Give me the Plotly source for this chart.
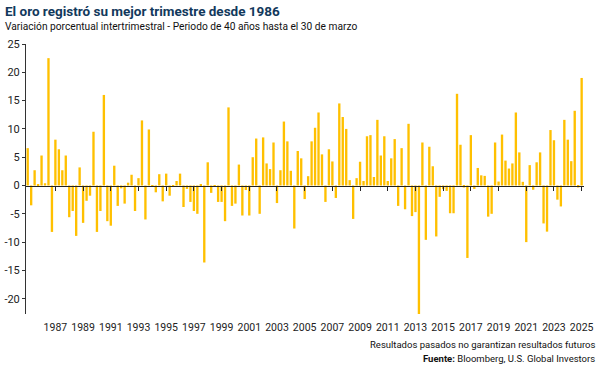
import plotly.graph_objects as go

# ---------------- data ----------------
title_text = "El oro registró su mejor trimestre desde 1986"
subtitle_text = "Variación porcentual intertrimestral - Periodo de 40 años hasta el 30 de marzo"
footnote_text = "Resultados pasados no garantizan resultados futuros"
source_label = "Fuente:"
source_text = "Bloomberg, U.S. Global Investors"

first_quarter_year = 1985  # first bar = Q1 1985, last bar = Q1 2025

qoq_change = [
    6.6, -3.5, 2.7, 0.1, 5.3, 0.4, 22.5, -8.2,          # 1985-1986
    8.1, 6.4, 2.7, 5.3, -5.6, -4.5, -8.9, 3.2,          # 1987-1988
    -6.6, -2.7, -1.8, 9.5, -8.2, -4.5, 16.0, -6.3,      # 1989-1990
    -7.1, 3.5, -3.6, -0.5, -3.2, 0.5, 1.9, -4.5,        # 1991-1992
    1.3, 11.5, -6.0, 9.9, -0.1, -1.2, 2.0, -2.8,        # 1993-1994
    2.1, -1.8, -0.2, 0.8, 2.1, -3.8, -0.6, -2.9,        # 1995-1996
    -4.5, -5.0, 0.2, -13.6, 4.1, -1.3, -0.2, -2.9,      # 1997-1998
    -2.9, -6.3, 13.8, -3.6, -3.2, 3.7, -5.3, -0.8,      # 1999-2000
    -5.3, 5.0, 8.3, -5.0, 8.5, 3.9, 2.9, 7.6,           # 2001-2002
    -3.1, 2.7, 11.3, 7.8, 2.6, -7.6, 6.1, 4.8,          # 2003-2004
    -2.4, 1.65, 7.8, 10.2, 12.9, 5.5, -2.9, 6.4,        # 2005-2006
    4.25, -2.2, 14.5, 12.1, 10.0, 0.95, -5.9, 1.3,      # 2007-2008
    4.2, 0.8, 8.7, 8.9, 1.5, 11.6, 5.3, 8.7,            # 2009-2010
    0.8, 4.8, 8.2, -3.6, 6.6, -4.2, 10.9, -5.4,         # 2011-2012
    -4.7, -22.8, 7.6, -9.6, 6.85, 3.4, -9.0, -2.0,      # 2013-2014
    -0.65, -0.95, -4.9, -4.9, 16.2, 7.2, -0.35, -12.8,  # 2015-2016
    8.9, -0.6, 3.1, 1.8, 1.7, -5.5, -5.0, 7.6,          # 2017-2018
    0.7, 9.0, 4.4, 3.0, 3.9, 12.9, 5.85, 0.65,          # 2019-2020
    -10.0, 3.6, -0.75, 4.1, 5.85, -6.7, -8.15, 9.8,     # 2021-2022
    8.0, -2.5, -3.7, 11.6, 8.1, 4.3, 13.2, -0.35,       # 2023-2024
    19.0,                                               # 2025 Q1
]

x_tick_years = list(range(1987, 2026, 2))
y_tick_values = list(range(-20, 26, 5))
y_tick_labels = [str(v) for v in y_tick_values]

# ---------------- style ----------------
FONT = "Roboto, Lato, sans-serif"
GOLD = "#FFC000"
NAVY = "#12395c"
X_RANGE = [1984.877, 2025.17]
Y_RANGE = [-22.7, 25.0]
zero_pos = (0 - Y_RANGE[0]) / (Y_RANGE[1] - Y_RANGE[0])

x_vals = [first_quarter_year + i / 4 for i in range(len(qoq_change))]

fig = go.Figure()
fig.add_trace(go.Bar(
    x=x_vals, y=qoq_change, width=0.17,
    marker=dict(color=GOLD, line=dict(width=0)),
    hovertemplate="%{y:.1f}%<extra></extra>",
))
# helper trace so the zero-line axis (x2) is rendered
fig.add_trace(go.Scatter(x=[None], y=[None], xaxis="x2", yaxis="y",
                         showlegend=False, hoverinfo="skip"))

fig.update_layout(
    width=600, height=365,
    margin=dict(l=26, r=16, t=44, b=51, autoexpand=False),
    paper_bgcolor="white", plot_bgcolor="white",
    showlegend=False,
    font=dict(family=FONT, size=11, color="#222222"),
    xaxis=dict(
        range=X_RANGE, tickvals=x_tick_years,
        ticktext=[str(y) for y in x_tick_years],
        tickangle=0, automargin=False,
        ticks="outside", ticklen=3, tickcolor="rgba(0,0,0,0)",
        showline=False, showgrid=False, zeroline=False,
        tickfont=dict(family=FONT, size=10.5, color="#222222"),
    ),
    xaxis2=dict(
        overlaying="x", anchor="free", position=zero_pos, side="bottom",
        range=X_RANGE, tickvals=x_tick_years, automargin=False,
        ticks="outside", ticklen=4, tickwidth=1, tickcolor="#222222",
        showticklabels=False, showline=True, linecolor="#222222", linewidth=1,
        showgrid=False, zeroline=False,
    ),
    yaxis=dict(
        range=Y_RANGE, tickvals=y_tick_values, ticktext=y_tick_labels,
        automargin=False,
        ticks="outside", ticklen=3, tickcolor="#333333",
        showline=True, linecolor="#333333", linewidth=1,
        showgrid=False, zeroline=False,
        tickfont=dict(family=FONT, size=11, color="#222222"),
    ),
)

plot_w = 600 - 26 - 16
plot_h = 365 - 44 - 51
def px_x(px):
    return (px - 26) / plot_w
def px_y(py):
    return (365 - 51 - py) / plot_h

fig.add_annotation(text=f"<b>{title_text}</b>", xref="paper", yref="paper",
                   x=px_x(3), y=px_y(10.5), xanchor="left", yanchor="middle",
                   showarrow=False, font=dict(family=FONT, size=13.5, color=NAVY))
fig.add_annotation(text=subtitle_text, xref="paper", yref="paper",
                   x=px_x(3), y=px_y(26), xanchor="left", yanchor="middle",
                   showarrow=False, font=dict(family=FONT, size=10.2, color="#111111"))
fig.add_annotation(text=footnote_text, xref="paper", yref="paper",
                   x=px_x(597), y=px_y(345), xanchor="right", yanchor="middle",
                   showarrow=False, font=dict(family=FONT, size=9.5, color="#111111"))
fig.add_annotation(text=f"<b>{source_label}</b> {source_text}", xref="paper", yref="paper",
                   x=px_x(597), y=px_y(358), xanchor="right", yanchor="middle",
                   showarrow=False, font=dict(family=FONT, size=9.5, color="#111111"))

fig.write_html(
    "out.html",
    config={"displayModeBar": False},
    post_script="document.body.style.margin='0px';document.body.style.overflow='hidden';",
)
